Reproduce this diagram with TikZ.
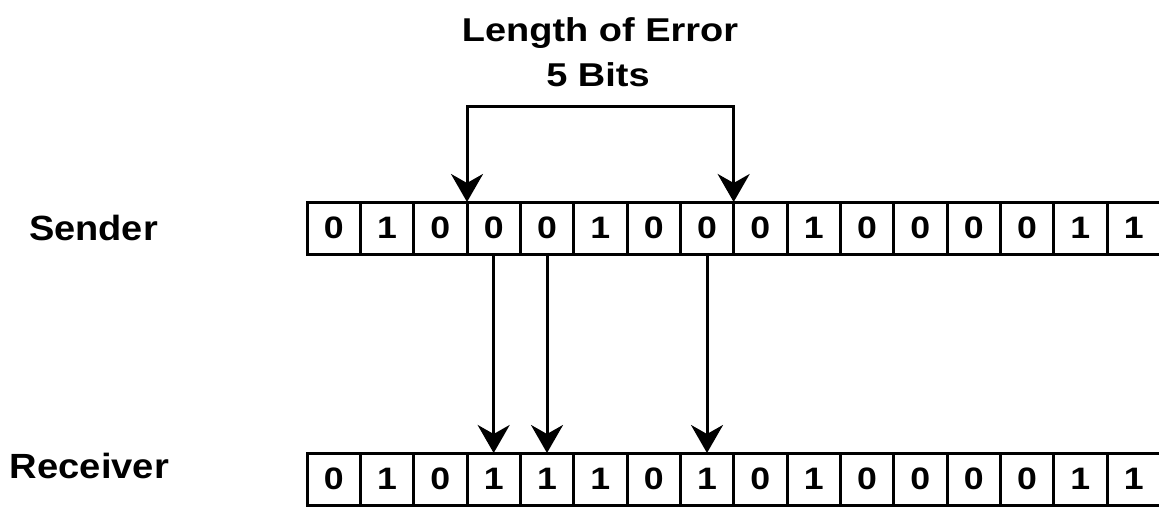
\documentclass[tikz,border=0pt]{standalone}
\usepackage{fontspec}
\usepackage{graphicx}
\setmainfont{Liberation Sans}
\usetikzlibrary{arrows.meta}
\newcommand\widetext[2]{\scalebox{#1}[1]{#2}}
\begin{document}
\begin{tikzpicture}[x=1pt,y=-1pt,
  bitbox/.style={draw=black, line width=3pt, minimum width=53.33pt, minimum height=52pt,
    inner sep=0pt, outer sep=0pt, font=\fontsize{31}{31}\selectfont\bfseries},
  lbl/.style={font=\fontsize{35}{35}\selectfont\bfseries, anchor=base, inner sep=0pt},
  head/.style={font=\fontsize{33}{33}\selectfont\bfseries, anchor=base, inner sep=0pt},
  arr/.style={line width=3pt, -{Stealth[length=28pt,width=32pt,inset=9pt]}},
  brk/.style={line width=3pt, {Stealth[length=28pt,width=32pt,inset=9pt]}-{Stealth[length=28pt,width=32pt,inset=9pt]}}]
\useasboundingbox (0,0) rectangle (1159,508);

% row labels
\node[lbl] (sender) at (93.5,240) {\widetext{1.085}{Sender}};
\node[lbl] (receiver) at (89.5,478) {\widetext{1.09}{Receiver}};

% bit rows
\foreach [count=\i] \b in {0,1,0,0,0,1,0,0,0,1,0,0,0,0,1,1}
  \node[bitbox] (s\i) at ({307+53.333*(\i-0.5)},228) {\widetext{1.15}{\b}};
\foreach [count=\i] \b in {0,1,0,1,1,1,0,1,0,1,0,0,0,0,1,1}
  \node[bitbox] (r\i) at ({307+53.333*(\i-0.5)},479) {\widetext{1.15}{\b}};

% burst length marker
\node[head] (title1) at (600,41.7) {\widetext{1.15}{Length of Error}};
\node[head] (title2) at (598,87) {\widetext{1.15}{5 Bits}};
\coordinate (top) at (600,107);
\draw[brk] (s4.north west) -- (s4.north west |- top) -- (s8.north east |- top) -- (s8.north east);

% corrupted bits
\draw[arr] (s4.south) -- (r4.north);
\draw[arr] (s5.south) -- (r5.north);
\draw[arr] (s8.south) -- (r8.north);
\end{tikzpicture}
\end{document}
